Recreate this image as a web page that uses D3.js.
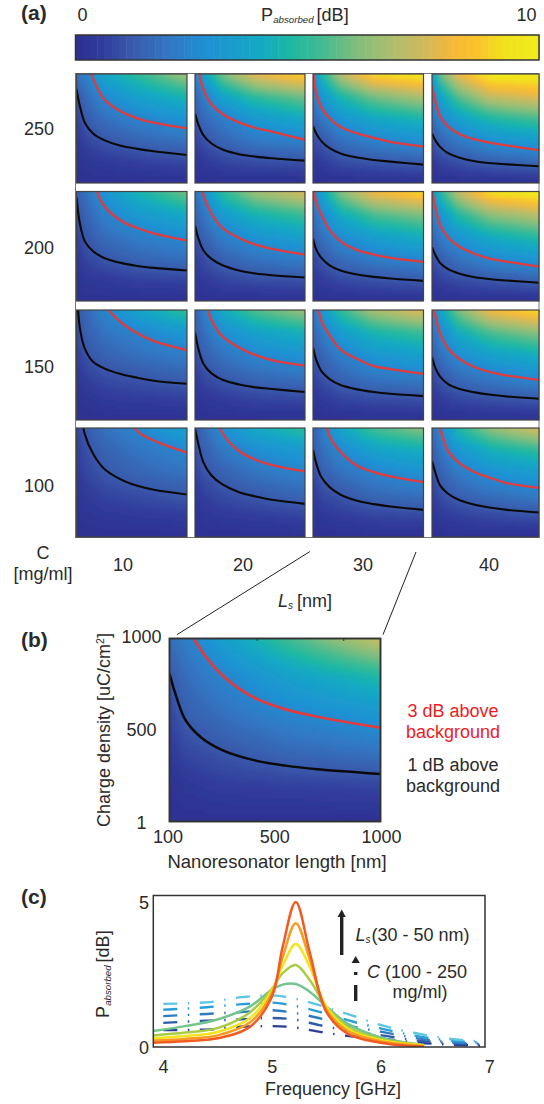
<!DOCTYPE html>
<html><head><meta charset="utf-8">
<script src="https://cdn.jsdelivr.net/npm/d3@7"></script>
<style>html,body{margin:0;background:#fff}svg{display:block}text{font-family:"Liberation Sans",Arial,sans-serif;fill:#2b2a2b}</style>
</head><body><div id="c"></div>
<script>
// ---------- data ----------
const cbarPos = [0,.05,.11,.2,.28,.4,.47,.535,.61,.68,.75,.82,.87,.93,1];
const cbarCol = ["#2e3192","#303c9b","#3a58aa","#3278c3","#1e91d4","#14aac3","#1eb9a0","#46bb91","#82be7d","#aabe6e","#cdb95f","#f5b937","#fac32d","#f2e11e","#f0eb1e"];
const rowLabels = ["250","200","150","100"];
const colLabels = ["10","20","30","40"];
// charge density of the contour lines at these lengths (nm); values above 1000 lie off the panel
const lens = [100,127,168,235,325,460,595,730,1000];
const blackCurves = [
 [[862,708,554,455,394,342,314,292,258],[637,539,440,363,308,265,243,228,206],[523,452,385,320,271,234,212,197,169],[455,394,332,274,234,200,182,172,154]],
 [[945,712,545,455,394,349,321,303,279],[688,576,464,385,327,279,252,236,215],[570,470,394,327,279,242,221,206,185],[491,424,349,291,252,218,200,188,167]],
 [[1300,840,650,530,470,418,385,358,330],[797,650,515,424,367,324,297,282,255],[658,545,445,373,318,279,255,239,218],[570,476,394,327,285,252,230,215,194]],
 [[1500,1200,942,764,627,529,470,434,391],[990,856,688,565,483,412,373,342,305],[801,673,550,458,388,333,302,281,250],[697,596,474,397,342,296,269,250,226]]
];
const redCurves = [
 [[1800,1500,1180,960,769,658,594,554,502],[1400,1060,862,723,634,557,505,471,397],[1040,820,694,594,514,455,415,378,335],[892,754,615,517,452,400,369,345,302]],
 [[2200,1900,1500,1100,870,736,667,618,552],[1500,1200,970,797,667,576,515,476,424],[1100,900,790,650,545,465,425,395,358],[1020,860,695,580,500,430,385,360,315]],
 [[3000,2600,2100,1500,1060,890,788,718,636],[1800,1500,1150,910,760,660,590,545,494],[1300,1120,900,770,640,555,491,464,421],[1100,950,790,650,560,480,435,405,365]],
 [[5000,4000,3200,2400,1800,1250,972,885,774],[2500,2100,1700,1300,954,789,709,660,602],[1900,1600,1250,927,780,654,596,556,504],[1500,1250,1000,790,682,595,541,495,452]]
];
const blackB = [809,691,555,460,391,336,306,286,260];
const redB = [1500,1300,1090,936,800,678,613,573,513];
// P absorbed [dB] at these lengths (columns) and densities (rows)
const fieldL = [100,168,325,595,1000];
const fieldD = [1000,800,600,400,200,1];
const fields = [
 [[[1.9,2.3,3.8,5.0,6.7],[1.0,1.6,2.6,3.6,4.5],[.6,1.2,1.8,2.4,3.0],[.3,.7,1.1,1.5,1.9],[.1,.25,.4,.6,.8],[0,0,0,0,0]],
  [[2.1,3.5,6.0,8.0,9.1],[1.5,2.1,3.7,5.0,6.0],[1.0,1.6,2.2,3.2,4.0],[.6,1.0,1.5,2.1,2.4],[.2,.4,.7,.9,1.0],[0,0,0,0,0]],
  [[2.5,4.5,7.1,9.2,9.8],[1.9,3.0,4.6,6.0,7.0],[1.4,2.0,3.0,3.9,4.6],[.8,1.1,1.8,2.4,2.9],[.3,.5,.9,1.1,1.3],[0,0,0,0,0]],
  [[2.9,5.8,8.1,9.9,9.9],[2.1,3.7,5.6,7.4,8.0],[1.6,2.4,3.6,4.7,5.4],[1.0,1.5,2.1,2.9,3.4],[.4,.7,1.0,1.3,1.6],[0,0,0,0,0]]],
 [[[1.3,1.8,3.0,4.4,6.0],[.9,1.4,2.3,3.2,4.0],[.6,1.1,1.7,2.2,2.7],[.3,.7,1.1,1.5,1.8],[.1,.3,.4,.6,.7],[0,0,0,0,0]],
  [[1.7,2.7,4.9,6.6,7.7],[1.3,1.9,3.3,4.4,5.2],[.9,1.4,2.2,3.0,3.6],[.5,.9,1.4,1.9,2.3],[.2,.4,.7,.9,1.0],[0,0,0,0,0]],
  [[2.2,3.6,6.2,8.2,9.2],[1.6,2.5,4.1,5.4,6.2],[1.2,1.8,2.7,3.5,4.2],[.7,1.1,1.7,2.2,2.6],[.3,.5,.8,1.0,1.2],[0,0,0,0,0]],
  [[2.5,4.7,7.3,9.4,10],[1.9,3.1,4.8,6.4,7.2],[1.4,2.1,3.1,4.1,4.9],[.9,1.3,1.9,2.6,3.1],[.4,.6,.9,1.1,1.4],[0,0,0,0,0]]],
 [[[1.1,1.5,2.4,3.7,5.1],[.8,1.3,1.9,2.4,3.2],[.5,1.0,1.4,1.8,2.2],[.3,.6,.9,1.1,1.4],[.1,.2,.4,.5,.6],[0,0,0,0,0]],
  [[1.3,2.2,4.0,5.5,6.6],[1.1,1.7,2.7,3.6,4.3],[.8,1.3,1.9,2.5,3.0],[.4,.8,1.2,1.6,1.9],[.2,.3,.5,.7,.8],[0,0,0,0,0]],
  [[1.7,3.0,5.1,6.8,7.9],[1.4,2.1,3.3,4.5,5.2],[1.0,1.5,2.2,3.1,3.6],[.6,1.0,1.5,2.0,2.3],[.2,.4,.7,.9,1.0],[0,0,0,0,0]],
  [[2.0,3.6,6.1,8.3,9.3],[1.6,2.5,4.1,5.4,6.3],[1.2,1.8,2.7,3.6,4.2],[.7,1.1,1.7,2.2,2.7],[.3,.5,.8,1.0,1.2],[0,0,0,0,0]]],
 [[[.7,1.2,1.8,2.5,3.6],[.5,.9,1.4,1.9,2.5],[.4,.7,1.1,1.5,1.9],[.2,.4,.7,.9,1.2],[.1,.2,.3,.4,.5],[0,0,0,0,0]],
  [[1.1,1.6,2.8,3.9,5.0],[.9,1.3,2.0,2.7,3.3],[.6,1.0,1.4,1.9,2.4],[.3,.6,.9,1.2,1.6],[.1,.3,.4,.5,.7],[0,0,0,0,0]],
  [[1.3,2.1,3.8,5.3,6.3],[1.1,1.7,2.5,3.6,4.2],[.8,1.3,1.8,2.4,2.9],[.4,.8,1.1,1.6,1.9],[.2,.3,.5,.7,.8],[0,0,0,0,0]],
  [[1.5,2.5,4.7,6.4,7.7],[1.2,1.9,3.1,4.2,5.0],[.9,1.4,2.1,2.9,3.4],[.5,.9,1.4,1.8,2.2],[.2,.4,.6,.8,1.0],[0,0,0,0,0]]]
];
const fieldB = [[1.7,2.2,3.4,5.2,7.4],[1.1,1.7,2.4,3.5,4.7],[.7,1.3,1.8,2.5,3.1],[.4,.8,1.1,1.6,2.0],[.1,.3,.5,.6,.7],[0,0,0,0,0]];
// panel (c)
const solidFreq = [3.91,4.2,4.5,4.8,5,5.1,5.22,5.35,5.5,5.7,6,6.4];
const solidSeries = [
 [.55,.72,.95,1.4,1.97,2.15,2.17,1.9,1.4,.8,.33,.07],
 [.4,.5,.65,1.2,2.0,2.55,2.83,2.3,1.4,.7,.28,.06],
 [.3,.38,.52,1.0,1.95,2.8,3.55,2.75,1.4,.62,.24,.05],
 [.22,.28,.4,.85,1.85,3.1,4.27,3.0,1.3,.55,.2,.03],
 [.15,.2,.3,.7,1.73,3.46,5.0,3.24,1.22,.45,.15,.01]
];
const solidColors = ["#73c58c","#a8cc44","#f3e51c","#f89b1e","#f15a22"];
const dashFreq = [3.91,4.4,4.7,5,5.2,5.43,5.75,6,6.3,6.6,6.96];
const dashSeries = [
 [.58,.6,.7,.72,.68,.53,.36,.3,.16,.09,.04],
 [.81,.91,.95,1.0,.95,.76,.53,.41,.24,.14,.08],
 [1.05,1.14,1.2,1.27,1.18,1.0,.7,.53,.32,.18,.11],
 [1.27,1.37,1.47,1.53,1.43,1.22,.87,.64,.4,.24,.15],
 [1.48,1.54,1.71,1.78,1.68,1.45,1.07,.76,.49,.3,.18]
];
const dashColors = ["#2b3d97","#2f5bab","#2d7cc2","#2b9ed9","#5cc7e0"];

// ---------- page ----------
const svg = d3.select("#c").append("svg").attr("width",544).attr("height",1104);
const defs = svg.append("defs");
defs.append("filter").attr("id","soft").attr("x","-10%").attr("y","-10%").attr("width","120%").attr("height","120%")
  .append("feGaussianBlur").attr("stdDeviation",2.5);
const colorAt = d3.scaleLinear().domain(cbarPos.map(p=>p*10)).range(cbarCol).clamp(true);
const FS = 18, DARK="#333";
function txt(x,y,s,o={}){
  return svg.append("text").attr("x",x).attr("y",y).attr("font-size",o.fs||FS)
   .attr("text-anchor",o.a||"middle").attr("font-weight",o.w||null)
   .style("fill",o.c||null).text(s);
}
let uid=0;
function panel(x0,x1,y0,y1,field,black,red,cell,lw){
  const X=d3.scaleLinear([100,1000],[x0,x1]), Y=d3.scaleLinear([1,1000],[y1,y0]);
  const id="cp"+(uid++);
  defs.append("clipPath").attr("id",id).append("rect").attr("x",x0).attr("y",y0).attr("width",x1-x0).attr("height",y1-y0);
  const g=svg.append("g").attr("clip-path",`url(#${id})`);
  const ix=d3.scaleLinear().domain(fieldL).range(d3.range(fieldL.length)).clamp(true);
  const iy=d3.scaleLinear().domain(fieldD).range(d3.range(fieldD.length)).clamp(true);
  const val=(L,D)=>{
    const a=ix(L), b=iy(D), i=Math.min(Math.floor(a),fieldL.length-2), j=Math.min(Math.floor(b),fieldD.length-2), u=a-i, v=b-j;
    return d3.interpolateNumber(d3.interpolateNumber(field[j][i],field[j][i+1])(u),d3.interpolateNumber(field[j+1][i],field[j+1][i+1])(u))(v);
  };
  const cells=[];
  for(let px=x0-9;px<x1+9;px+=cell)for(let py=y0-9;py<y1+9;py+=cell)cells.push([px,py]);
  g.append("g").attr("filter","url(#soft)").selectAll("rect").data(cells).join("rect")
   .attr("x",d=>d[0]).attr("y",d=>d[1]).attr("width",cell+.5).attr("height",cell+.5).attr("shape-rendering","crispEdges")
   .attr("fill",d=>colorAt(val(X.invert(d[0]+cell/2),Y.invert(d[1]+cell/2))));
  const line=d3.line().x((d,i)=>X(lens[i])).y(d=>Y(d)).curve(d3.curveCatmullRom.alpha(.5));
  g.append("path").attr("d",line(red)).attr("fill","none").attr("stroke","#e23b3e").attr("stroke-width",lw+.2);
  g.append("path").attr("d",line(black)).attr("fill","none").attr("stroke","#0a0a0a").attr("stroke-width",lw);
  svg.append("rect").attr("x",x0).attr("y",y0).attr("width",x1-x0).attr("height",y1-y0)
   .attr("fill","none").attr("stroke","#444").attr("stroke-width",1.2);
  return {X,Y};
}

// colour bar
const cb=d3.scaleBand().domain(d3.range(64)).range([75.5,539]);
svg.append("g").selectAll("rect").data(d3.range(64)).join("rect")
 .attr("x",d=>cb(d)).attr("y",35).attr("width",cb.bandwidth()+.5).attr("height",25)
 .attr("fill",d=>colorAt(d/63*10));
svg.append("rect").attr("x",75.5).attr("y",35).attr("width",463.5).attr("height",25).attr("fill","none").attr("stroke",DARK).attr("stroke-width",1.5);
txt(21,19.5,"(a)",{fs:21,a:"start",w:"bold"});
txt(82.5,21,"0");
txt(526.5,21,"10");
const pa=txt(261,21,"P",{a:"start"});
pa.append("tspan").attr("font-size",9.7).attr("font-style","italic").attr("dy",2).attr("dx",.2).text("absorbed");
pa.append("tspan").attr("dy",-2).attr("dx",3).text("[dB]");

// panel grid (a)
const colX=[[76.5,187],[195,305],[313,423.5],[432,539]];
const rowY=[[74,183],[191.5,301],[310,420],[428,537]];
svg.append("rect").attr("x",75.5).attr("y",73.5).attr("width",463.5).attr("height",464).attr("fill","none").attr("stroke","#777").attr("stroke-width",1);
rowY.forEach((ry,r)=>colX.forEach((cx,c)=>panel(cx[0],cx[1],ry[0],ry[1],fields[r][c],blackCurves[r][c],redCurves[r][c],3,2.1)));
const rowBase=[134.5,254,373,491.5];
rowLabels.forEach((s,i)=>txt(39,rowBase[i],s));
const colCenter=[123,243,363,489];
colLabels.forEach((s,i)=>txt(colCenter[i],571,s));
txt(43,559,"C"); txt(43,580,"[mg/ml]");
const ls=txt(278,607,"L",{a:"start"}).style("font-style","italic");
ls.append("tspan").attr("font-size",10).attr("dy",2).text("s");
ls.append("tspan").attr("dy",-2).attr("dx",4).style("font-style","normal").text("[nm]");
svg.append("line").attr("x1",309.8).attr("y1",551.6).attr("x2",176.9).attr("y2",634.7).attr("stroke","#222").attr("stroke-width",1);
svg.append("line").attr("x1",416).attr("y1",552).attr("x2",383).attr("y2",634.7).attr("stroke","#222").attr("stroke-width",1);

// panel (b)
txt(21,647,"(b)",{fs:21,a:"start",w:"bold"});
const B=panel(169.5,380.5,638.5,821.5,fieldB,blackB,redB,4,2.5);
svg.append("rect").attr("x",169.5).attr("y",638.5).attr("width",211).attr("height",183).attr("fill","none").attr("stroke",DARK).attr("stroke-width",1.8);
const bTicks=[472,841];
const bTopAxis=d3.axisTop(B.X).tickValues(bTicks).tickSize(-2.5).tickFormat("");
const bBotAxis=d3.axisBottom(B.X).tickValues(bTicks).tickSize(-2.5).tickFormat("");
[[bTopAxis,638.5],[bBotAxis,821.5]].forEach(([a,y])=>{const g=svg.append("g").attr("transform",`translate(0,${y})`).call(a);g.select(".domain").remove();g.selectAll("line").attr("stroke",DARK);});
const bxLabels=["100","500","1000"], byLabels=["1000","500","1"];
const bxP=d3.scalePoint().domain(bxLabels).range([168,381.5]);
const byP=d3.scalePoint().domain(byLabels).range([642.7,828.5]);
bxLabels.forEach(s=>txt(bxP(s),843,s));
byLabels.forEach(s=>txt(141.5,byP(s),s));
txt(277,868,"Nanoresonator length [nm]",{fs:18.5});
const cd=svg.append("text").attr("transform","translate(110,730) rotate(-90)").attr("text-anchor","middle").attr("font-size",18).text("Charge density [uC/cm");
cd.append("tspan").attr("font-size",10.5).attr("dy",-6).text("2");
cd.append("tspan").attr("dy",6).text("]");
txt(453,717,"3 dB above",{c:"#ed1c24",fs:18}); txt(453,738,"background",{c:"#ed1c24",fs:18});
txt(453,771,"1 dB above",{fs:18}); txt(453,791.5,"background",{fs:18});

// panel (c)
txt(21,904,"(c)",{fs:21,a:"start",w:"bold"});
const cx=d3.scaleLinear([3.91,6.96],[153.3,485]), cy=d3.scaleLinear([0,5],[1047,902]);
defs.append("clipPath").attr("id","cc").append("rect").attr("x",153.3).attr("y",895.5).attr("width",331.7).attr("height",151.5);
const cg=svg.append("g").attr("clip-path","url(#cc)");
const dashLine=d3.line().x((d,i)=>cx(dashFreq[i])).y(d=>cy(d)).curve(d3.curveMonotoneX);
cg.selectAll(".dash").data(dashSeries).join("path").attr("class","dash").attr("d",dashLine).attr("fill","none")
 .attr("stroke",(d,i)=>dashColors[i]).attr("stroke-width",2.4)
 .attr("stroke-dasharray","14 10.5 1.5 10.5").attr("stroke-dashoffset",26.5);
const solidLine=d3.line().x((d,i)=>cx(solidFreq[i])).y(d=>cy(d)).curve(d3.curveCatmullRom.alpha(.5));
cg.selectAll(".solid").data(solidSeries).join("path").attr("class","solid").attr("d",solidLine).attr("fill","none")
 .attr("stroke",(d,i)=>solidColors[i]).attr("stroke-width",2.5);
svg.append("rect").attr("x",153.3).attr("y",895.5).attr("width",331.7).attr("height",151.5).attr("fill","none").attr("stroke",DARK).attr("stroke-width",1.5);
const cxAxis=d3.axisBottom(cx).tickValues([4,5,6,7]).tickSize(0).tickFormat(d3.format("d"));
const gx=svg.append("g").attr("transform","translate(0,1059)").call(cxAxis);
gx.select(".domain").remove();
gx.selectAll("text").attr("font-size",FS).attr("font-family",null).attr("dy",0).attr("y",13.7);
const cyAxis=d3.axisLeft(cy).tickValues([0,5]).tickSize(0).tickFormat(d3.format("d"));
const gy=svg.append("g").attr("transform","translate(149,0)").call(cyAxis);
gy.select(".domain").remove();
gy.selectAll("text").attr("font-size",FS).attr("font-family",null).attr("dy",6).attr("x",0);
txt(333,1095,"Frequency [GHz]",{fs:18});
const pc=svg.append("text").attr("transform","translate(109,1018) rotate(-90)").attr("font-size",FS).text("P");
pc.append("tspan").attr("font-size",9.7).attr("font-style","italic").attr("dy",2).attr("dx",.2).text("absorbed");
pc.append("tspan").attr("dy",-2).attr("dx",3).text("[dB]");
// arrows
svg.append("rect").attr("x",340).attr("y",916).attr("width",3.4).attr("height",39).attr("fill","#222");
svg.append("path").attr("d","M341.7 909.5L345.8 917H337.6Z").attr("fill","#222");
svg.append("path").attr("d","M355.7 956L359.8 963H351.6Z").attr("fill","#222");
svg.append("rect").attr("x",354).attr("y",972).attr("width",3.4).attr("height",3).attr("fill","#222");
svg.append("rect").attr("x",354).attr("y",985).attr("width",3.4).attr("height",16).attr("fill","#222");
const t1=txt(355.5,940.7,"L",{a:"start"}).style("font-style","italic");
t1.append("tspan").attr("font-size",10).attr("dy",2).text("s");
t1.append("tspan").attr("dy",-2).attr("dx",1).style("font-style","normal").text("(30 - 50 nm)");
const t2=txt(367,977.7,"C",{a:"start"}).style("font-style","italic");
t2.append("tspan").attr("dx",5).style("font-style","normal").text("(100 - 250");
txt(420,998,"mg/ml)");
</script></body></html>
